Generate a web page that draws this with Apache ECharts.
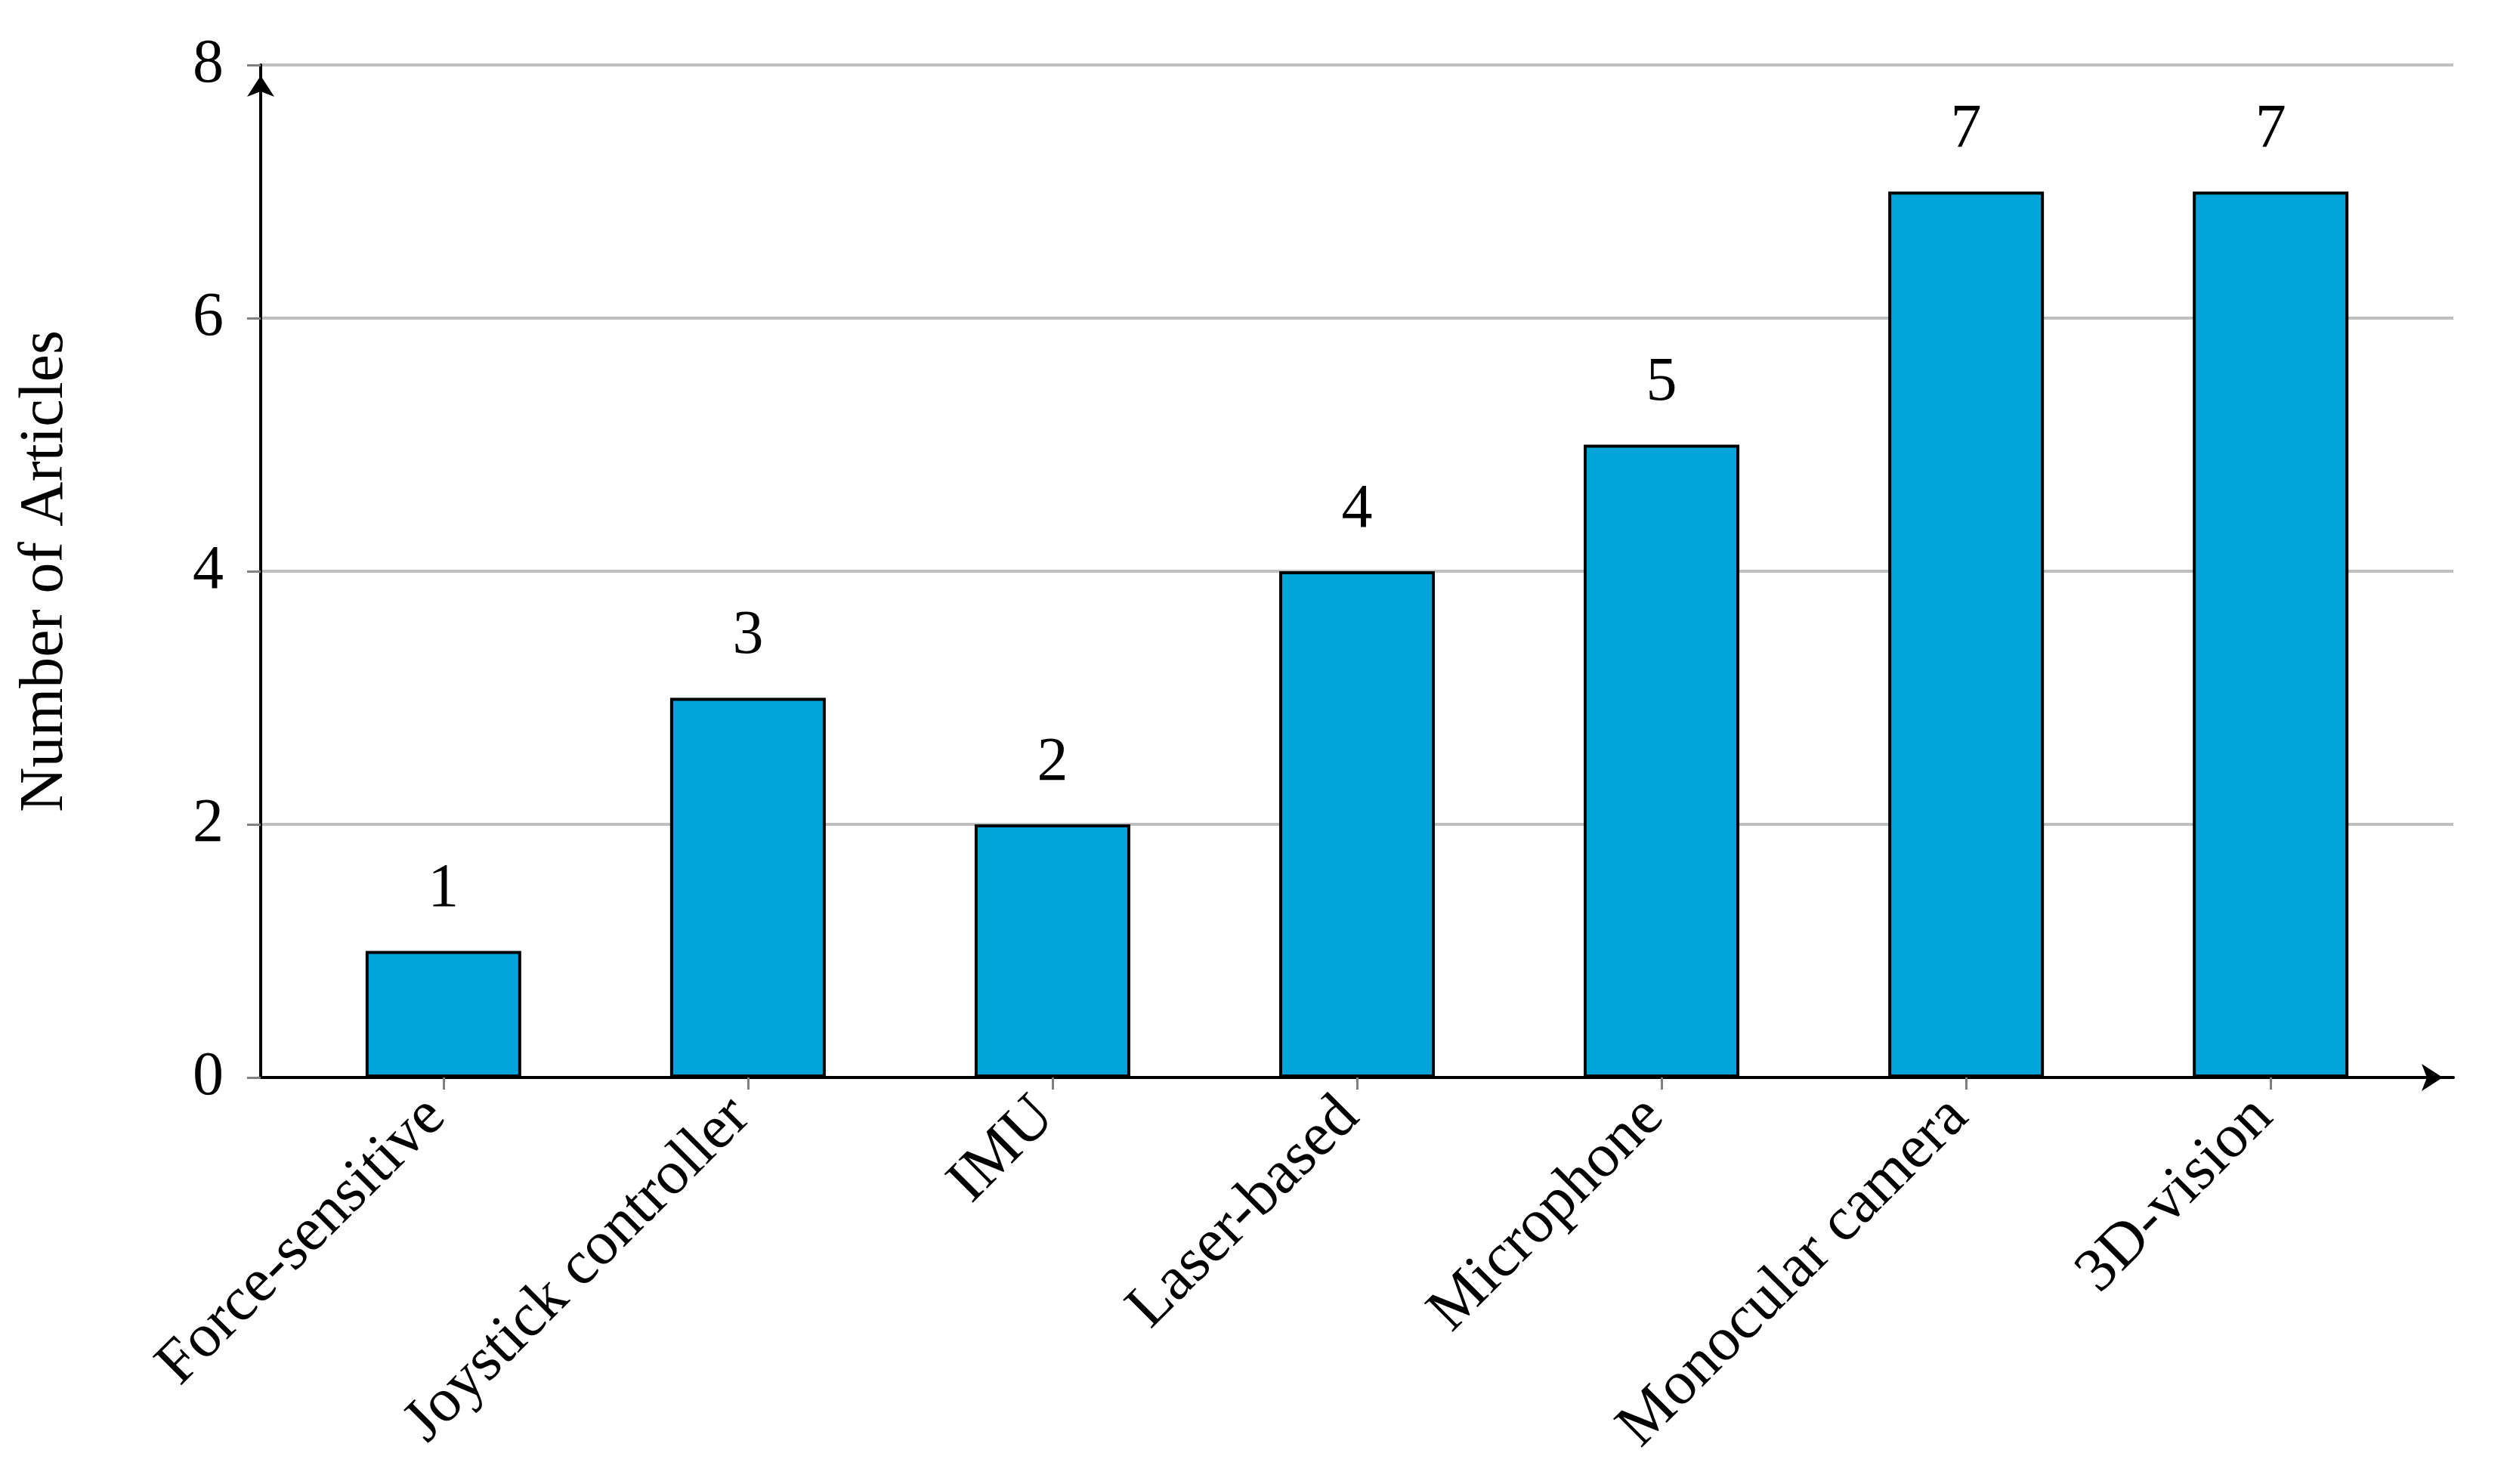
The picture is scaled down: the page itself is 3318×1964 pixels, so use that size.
<!DOCTYPE html>
<html>
<head>
<meta charset="utf-8">
<script src="https://cdn.jsdelivr.net/npm/echarts@6/dist/echarts.min.js"></script>
<style>
html,body{margin:0;padding:0;background:#fff;}
#chart{width:3318px;height:1964px;}
</style>
</head>
<body>
<div id="chart"></div>
<script>
const categories = ["Force-sensitive", "Joystick controller", "IMU", "Laser-based", "Microphone", "Monocular camera", "3D-vision"];
const articleCounts = [1, 3, 2, 4, 5, 7, 7];
const yTicks = [0, 2, 4, 6, 8];
const yAxisTitle = "Number of Articles";

const FONT = "Liberation Serif";
const FS = 82;
const positions = categories.map((c, i) => i);

const chart = echarts.init(document.getElementById('chart'), null, {renderer: 'canvas'});
chart.setOption({
  backgroundColor: '#ffffff',
  animation: false,
  grid: {left: 345, right: 71, top: 86, bottom: 538, containLabel: false},
  xAxis: {
    type: 'value',
    min: -0.6,
    max: 6.6,
    splitLine: {show: false},
    axisLine: {
      show: true, onZero: false,
      lineStyle: {color: '#000', width: 4},
      symbol: ['none', 'arrow'],
      symbolSize: [27, 28],
      symbolOffset: [0, -14]
    },
    axisTick: {show: true, customValues: positions, length: 16, lineStyle: {color: '#808080', width: 3}},
    axisLabel: {
      customValues: positions,
      rotate: 45,
      margin: 30,
      padding: [0, 14, 16, 0],
      fontFamily: FONT, fontSize: FS, color: '#000',
      formatter: v => categories[Math.round(v)]
    }
  },
  yAxis: {
    type: 'value',
    min: 0, max: 8, interval: 2,
    name: yAxisTitle,
    nameLocation: 'middle',
    nameRotate: 90,
    nameGap: 244,
    nameTextStyle: {fontFamily: FONT, fontSize: FS, color: '#000'},
    axisLine: {
      show: true, onZero: false,
      lineStyle: {color: '#000', width: 4},
      symbol: ['none', 'arrow'],
      symbolSize: [27, 28],
      symbolOffset: [0, -14]
    },
    axisTick: {show: true, length: 18, lineStyle: {color: '#808080', width: 3}},
    axisLabel: {
      margin: 49,
      fontFamily: FONT, fontSize: FS, color: '#000',
      customValues: yTicks
    },
    splitLine: {show: true, lineStyle: {color: '#bfbfbf', width: 4}}
  },
  series: [{
    type: 'bar',
    data: articleCounts.map((v, i) => [positions[i], v]),
    barWidth: 206,
    itemStyle: {color: '#03a4da', borderColor: '#000', borderWidth: 4},
    label: {
      show: true,
      position: 'top',
      distance: 40,
      fontFamily: FONT, fontSize: FS, color: '#000'
    }
  }]
});
</script>
</body>
</html>
